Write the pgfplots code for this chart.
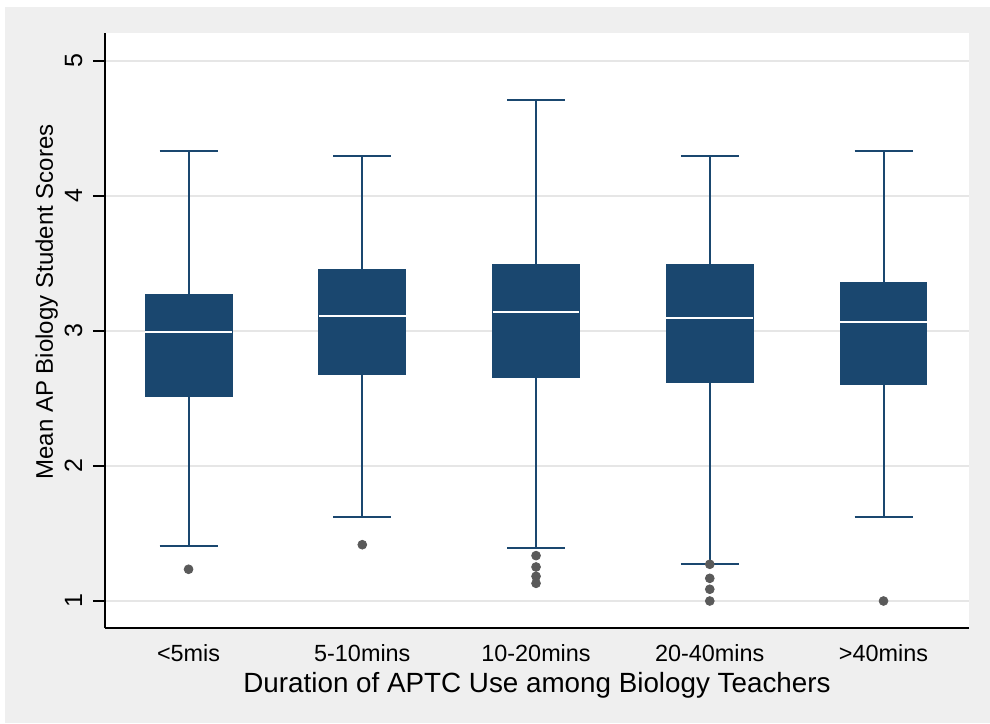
\documentclass[border=0pt]{standalone}
\usepackage{pgfplots}
\pgfplotsset{compat=1.18}
\usepgfplotslibrary{statistics}
\usepackage{fontspec}
\setmainfont{Liberation Sans}
\definecolor{navy}{RGB}{26,71,111}
\definecolor{bggray}{RGB}{239,239,239}
\definecolor{gridgray}{RGB}{230,230,230}
\definecolor{outgray}{RGB}{90,90,90}
\begin{document}
\begin{tikzpicture}
\fill[white] (-52.5pt,-47.5pt) rectangle (442.5pt,314pt);
\fill[bggray] (-50pt,-47.5pt) rectangle (442.5pt,310.5pt);
\begin{axis}[
  at={(0,0)}, anchor=south west,
  scale only axis, width=432pt, height=297.5pt,
  xmin=0.519, xmax=5.492, ymin=0.8, ymax=5.207,
  axis x line*=bottom, axis y line*=left,
  axis line style={line width=1pt, black, -},
  axis background/.style={fill=white},
  xtick={1,2,3,4,5},
  xticklabels={<5mis,5-10mins,10-20mins,20-40mins,>40mins},
  x tick style={draw=none},
  xticklabel style={font=\fontsize{11.7}{14}\selectfont, anchor=base, yshift=-10.5pt},
  ytick={1,2,3,4,5},
  y tick style={line width=1pt, black},
  tick align=outside, major tick length=6pt,
  /pgf/number format/assume math mode=true,
  yticklabel style={font=\fontsize{12.5}{14}\selectfont, xshift=-5.5pt, rotate=90, anchor=base},
  ymajorgrids, major grid style={line width=0.9pt, gridgray},
  xlabel={Duration of APTC Use among Biology Teachers},
  xlabel style={font=\fontsize{13.9}{16}\selectfont, at={(axis description cs:0.5,-0.1076)}, anchor=base},
  ylabel={Mean AP Biology Student Scores},
  ylabel style={font=\fontsize{12}{14}\selectfont, at={(axis description cs:-0.0602,0.548)}, anchor=base},
  boxplot/draw direction=y,
  boxplot/every box/.style={draw=navy, fill=navy, line width=0.5pt},
  boxplot/every whisker/.style={draw=navy, line width=1pt},
  boxplot/every median/.style={draw=white, line width=1pt},
  every axis plot/.append style={mark=*, mark size=2.2pt, mark options={draw=outgray, fill=outgray, solid}},
]
\addplot[boxplot prepared={draw position=1, lower whisker=1.41, lower quartile=2.511, median=2.996, upper quartile=3.267, upper whisker=4.333, box extend=0.5, whisker extend=0.334}, draw=navy]
  table[row sep=\\, y index=0] {1.235\\};
\addplot[boxplot prepared={draw position=2, lower whisker=1.624, lower quartile=2.681, median=3.111, upper quartile=3.459, upper whisker=4.296, box extend=0.5, whisker extend=0.334}, draw=navy]
  table[row sep=\\, y index=0] {1.417\\};
\addplot[boxplot prepared={draw position=3, lower whisker=1.393, lower quartile=2.659, median=3.141, upper quartile=3.496, upper whisker=4.711, box extend=0.5, whisker extend=0.334}, draw=navy]
  table[row sep=\\, y index=0] {1.336\\ 1.252\\ 1.183\\ 1.131\\};
\addplot[boxplot prepared={draw position=4, lower whisker=1.276, lower quartile=2.615, median=3.096, upper quartile=3.496, upper whisker=4.296, box extend=0.5, whisker extend=0.334}, draw=navy]
  table[row sep=\\, y index=0] {1.272\\ 1.168\\ 1.087\\ 1.0\\};
\addplot[boxplot prepared={draw position=5, lower whisker=1.624, lower quartile=2.6, median=3.067, upper quartile=3.356, upper whisker=4.333, box extend=0.5, whisker extend=0.334}, draw=navy]
  table[row sep=\\, y index=0] {1.0\\};
\end{axis}
\end{tikzpicture}
\end{document}
